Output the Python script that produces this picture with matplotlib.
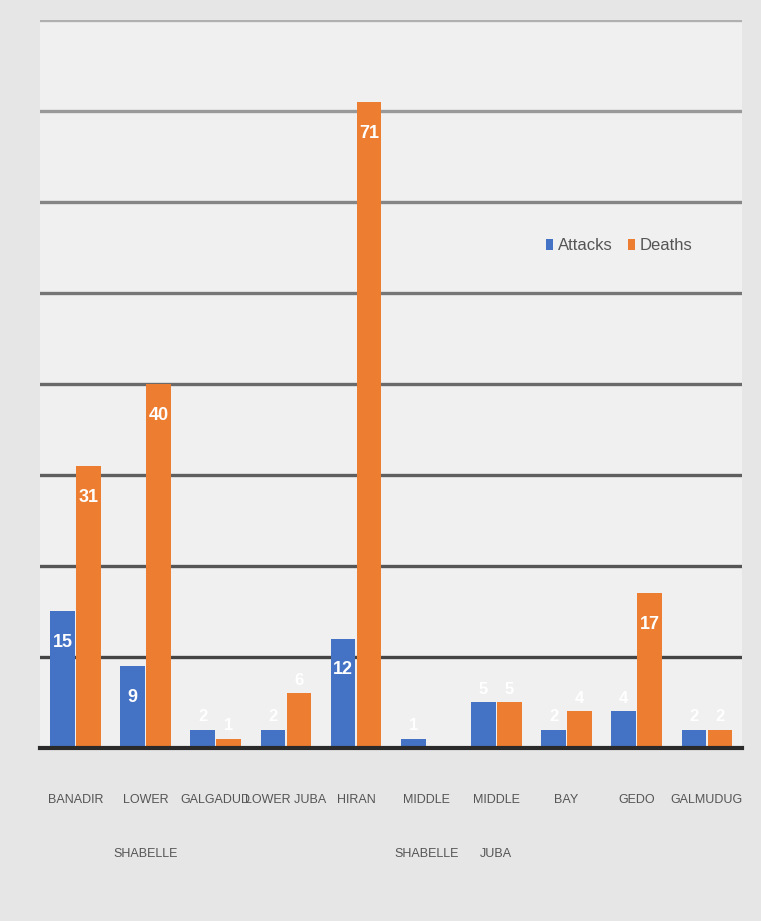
import matplotlib.pyplot as plt
import numpy as np

categories = ["BANADIR", "LOWER\nSHABELLE", "GALGADUD", "LOWER JUBA", "HIRAN",
              "MIDDLE\nSHABELLE", "MIDDLE\nJUBA", "BAY", "GEDO", "GALMUDUG"]
attacks = [15, 9, 2, 2, 12, 1, 5, 2, 4, 2]
deaths = [31, 40, 1, 6, 71, 0, 5, 4, 17, 2]
series_names = ["Attacks", "Deaths"]

blue = "#4472C4"
orange = "#ED7D31"
fam = ["Liberation Sans", "DejaVu Sans"]

fig = plt.figure(figsize=(7.61, 9.21), dpi=100)
fig.patch.set_facecolor("#e6e6e6")
ax = fig.add_axes([0.053, 0.188, 0.922, 0.79])
ax.set_facecolor("#f0f0f0")

x = np.arange(len(categories))
w = 0.35
b1 = ax.bar(x - w / 2 - 0.01, attacks, w, color=blue, label=series_names[0], zorder=3)
b2 = ax.bar(x + w / 2 + 0.01, deaths, w, color=orange, label=series_names[1], zorder=3)

for bars, vals in ((b1, attacks), (b2, deaths)):
    for r, v in zip(bars, vals):
        cx = r.get_x() + r.get_width() / 2
        if v >= 8:
            ax.text(cx, v - 2.5, str(v), ha="center", va="top", color="white",
                    fontsize=13, fontweight="bold", zorder=4, family=fam)
        elif v > 0:
            ax.text(cx, v + 0.6, str(v), ha="center", va="bottom", color="white",
                    fontsize=12, fontweight="bold", zorder=4, family=fam)

ax.set_ylim(0, 80)
ax.set_xlim(-0.5, len(categories) - 0.5)
ax.set_yticks(np.arange(0, 81, 10))
grid_cols = ["#444444", "#555555", "#5f5f5f", "#6a6a6a", "#767676", "#858585", "#999999", "#b0b0b0"]
for t, c in zip(np.arange(10, 81, 10), grid_cols):
    ax.axhline(t, color=c, linewidth=2.4, zorder=1)
ax.tick_params(axis="y", left=False, labelleft=False)
ax.tick_params(axis="x", bottom=False, pad=30)
ax.set_xticks(x)
ax.set_xticklabels(categories, fontsize=9, color="#555555", linespacing=5.6,
                   family=fam, va="top")
for s in ["top", "right", "left"]:
    ax.spines[s].set_visible(False)
ax.spines["bottom"].set_color("#2a2a2a")
ax.spines["bottom"].set_linewidth(3)
ax.spines["bottom"].set_zorder(5)

leg = ax.legend(loc="center left", bbox_to_anchor=(0.7, 0.69), ncol=2, frameon=False,
                prop={"family": fam, "size": 12},
                handlelength=0.4, handletextpad=0.3, columnspacing=0.9,
                labelcolor="#555555")

fig.savefig("out.png", dpi=100, facecolor=fig.get_facecolor())
